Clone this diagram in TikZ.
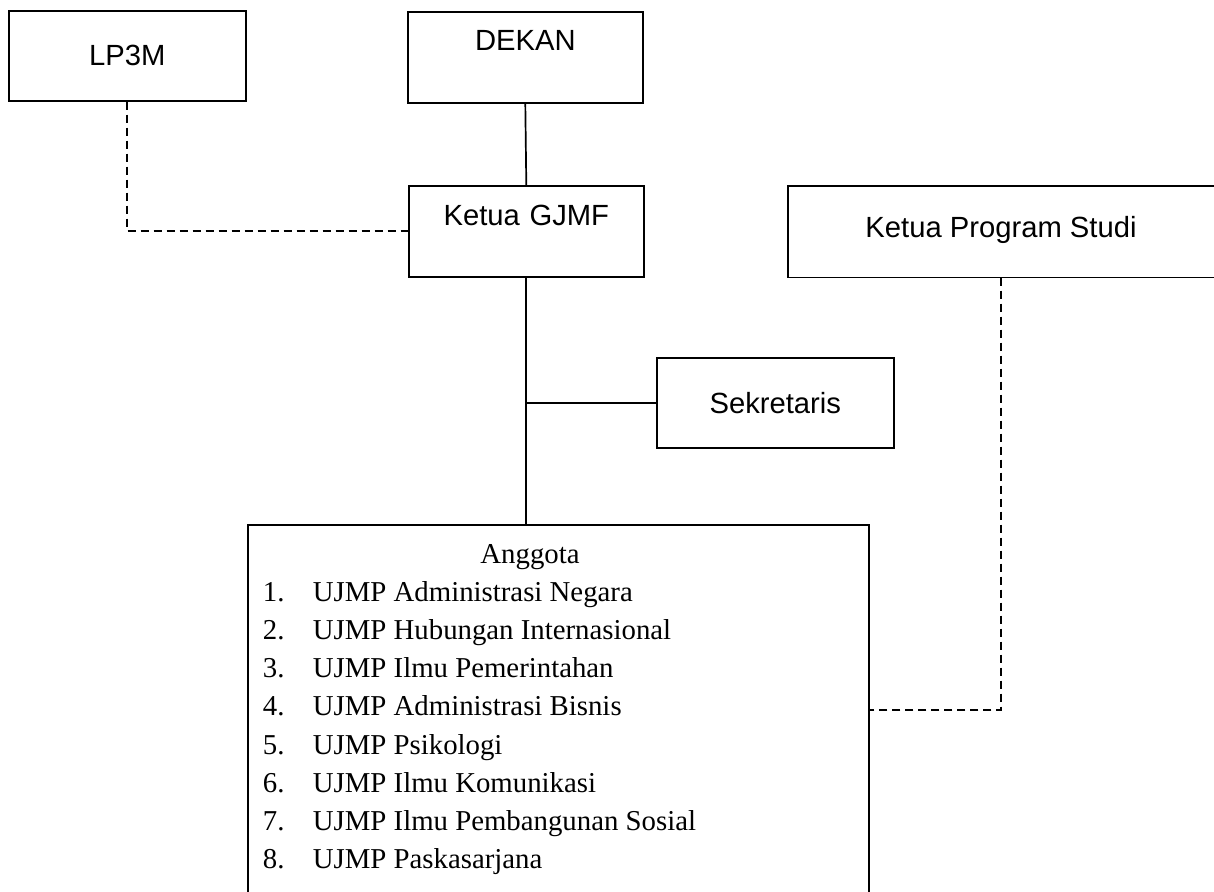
\documentclass[tikz,border=0pt]{standalone}
\usepackage{fontspec}
\setmainfont{Liberation Serif}
\newfontfamily\arialf{Liberation Sans}
\begin{document}
\begin{tikzpicture}[x=1pt,y=-1pt,
  line width=1.7pt,
  box/.style={draw, rectangle, line width=1.6pt, inner sep=0pt, anchor=north west,
    font=\arialf\fontsize{29.2}{32}\selectfont},
  dashline/.style={line width=1.7pt, dash pattern=on 8pt off 5pt},
  itemtext/.style={anchor=base west, inner sep=0pt, font=\fontsize{28.8}{32}\selectfont}]
\useasboundingbox (0,0) rectangle (1214,891);
\fill[white] (0,0) rectangle (1214,891);
% boxes
\node[box, minimum width=237pt, minimum height=90pt] (lp3m) at (8,10) {LP3M};
\node[box, minimum width=235pt, text height=39pt, text depth=52pt, text width=235pt, align=center] (dekan) at (407,11) {DEKAN};
\node[box, minimum width=235pt, text height=40pt, text depth=51pt, text width=235pt, align=center] (ketua) at (408,185) {Ketua GJMF};
\node[box, minimum width=426pt, minimum height=90pt, draw=none] (prodi) at (788,186) {};
\node[font=\arialf\fontsize{29.2}{32}\selectfont, inner sep=0pt] (prodit) at (1001,230) {Ketua Program Studi};
\draw[line width=1.6pt] (prodi.north east) -- (prodi.north west) -- (prodi.south west) -- (prodi.south east);
\node[box, minimum width=237pt, minimum height=90pt] (sekr) at (656,357) {Sekretaris};
% anggota box (open at bottom)
\node[rectangle, inner sep=0pt, anchor=north west, minimum width=619pt, minimum height=380pt] (angg) at (248,525) {};
\draw[line width=1.6pt] (angg.south west) -- (angg.north west) -- (angg.north east) -- (angg.south east);
\node[itemtext, anchor=base] (anggt) at (530,563) {Anggota};
\foreach \i/\t in {1/UJMP Administrasi Negara,2/UJMP Hubungan Internasional,3/UJMP Ilmu Pemerintahan,4/UJMP Administrasi Bisnis,5/UJMP Psikologi,6/UJMP Ilmu Komunikasi,7/UJMP Ilmu Pembangunan Sosial,8/UJMP Paskasarjana}{
  \node[itemtext] (num\i) at (262,{563+38.2*\i}) {\i.};
  \node[itemtext] (item\i) at (312,{563+38.2*\i}) {\t};
}
% connectors
\coordinate (jn) at (ketua.south |- sekr.west);
\coordinate (dashy) at (0,710);
\draw (dekan.south) -- (ketua.north);
\draw (ketua.south) -- (ketua.south |- angg.north);
\draw (jn) -- (sekr.west);
\draw[dashline] (lp3m.south) |- (ketua.west);
\draw[dashline] (prodit.center |- prodi.south) |- (angg.east |- dashy);
\end{tikzpicture}
\end{document}
